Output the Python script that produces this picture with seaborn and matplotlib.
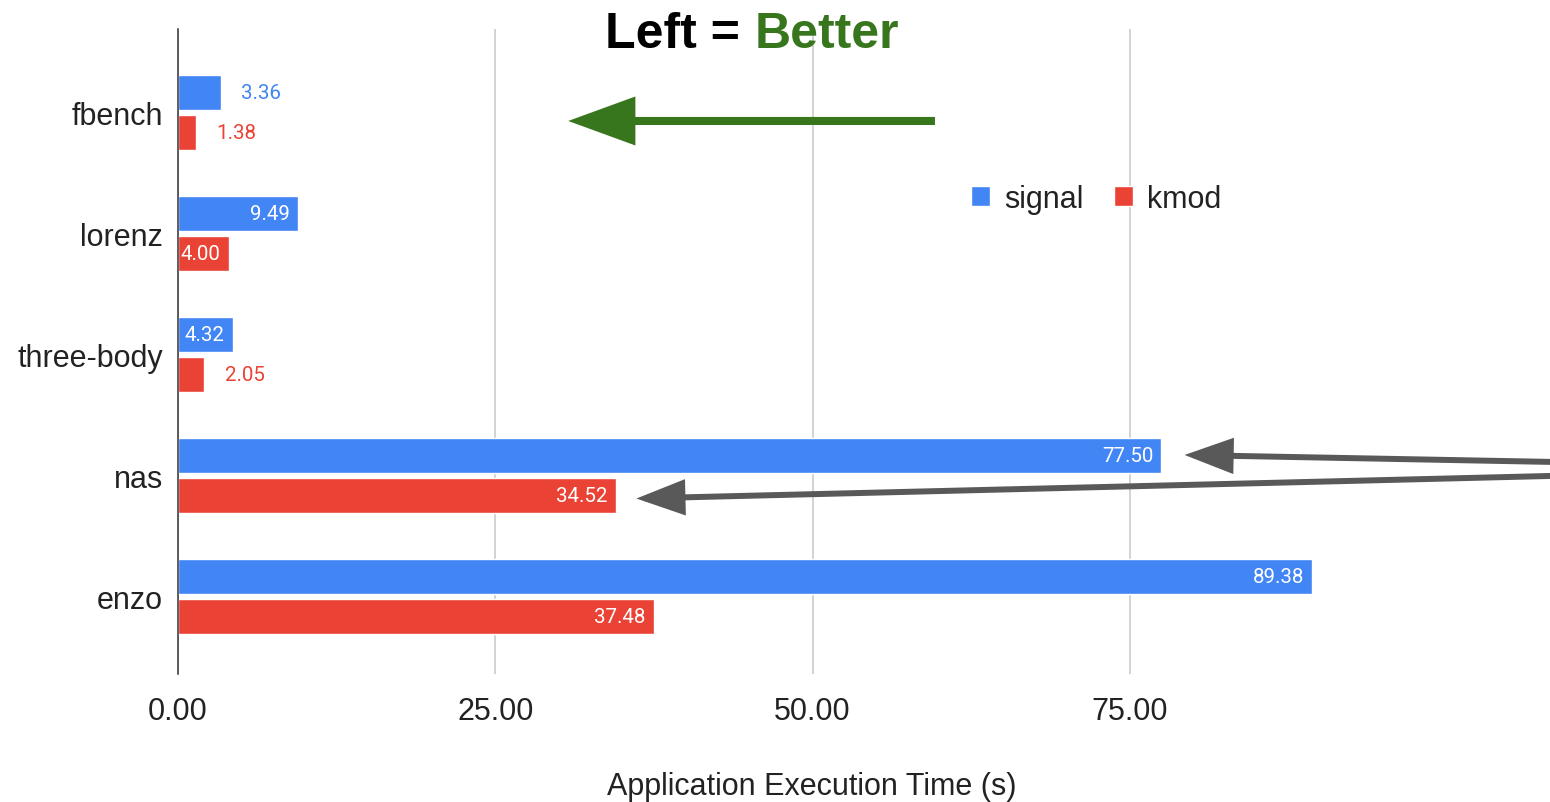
import pandas as pd
import seaborn as sns
import matplotlib.pyplot as plt

apps = ["fbench", "lorenz", "three-body", "nas", "enzo"]
signal = [3.36, 9.49, 4.32, 77.50, 89.38]
kmod = [1.38, 4.00, 2.05, 34.52, 37.48]
series = ["signal", "kmod"]
colors = ["#4285F4", "#EA4335"]
xticks = [0, 25, 50, 75]

df = pd.DataFrame({
    "app": apps * 2,
    "time": signal + kmod,
    "kind": ["signal"] * len(apps) + ["kmod"] * len(apps),
})

sns.set_style("white")
plt.rcParams["font.family"] = ["Liberation Sans", "DejaVu Sans"]

W, H = 1550, 803
fig = plt.figure(figsize=(W / 100, H / 100), dpi=100)
ax = fig.add_axes([178 / W, 1 - 675 / H, (W - 178) / W, (675 - 30) / H])

sns.barplot(data=df, x="time", y="app", hue="kind", orient="h", order=apps,
            hue_order=series, palette=colors, width=0.66, gap=0.12,
            saturation=1, ax=ax, zorder=3)

ax.set_xlim(0, (W - 178) / 12.69)
ax.set_ylim(4.64, -0.69)
ax.set_xticks(xticks)
ax.set_xticklabels([f"{t:.2f}" for t in xticks], fontsize=22, color="#222222")
ax.tick_params(axis="x", length=0, pad=16)
ax.tick_params(axis="y", length=0, pad=11, labelsize=22, labelcolor="#222222")
ax.set_ylabel("")
ax.set_xlabel("Application Execution Time (s)", fontsize=22, color="#222222",
              labelpad=32, x=(812 - 178) / (W - 178))
ax.grid(axis="x", color="#cccccc", lw=1.2, zorder=0)
for s in ["top", "right", "bottom"]:
    ax.spines[s].set_visible(False)
ax.spines["left"].set_color("#333333")
ax.spines["left"].set_linewidth(1.1)
ax.spines["left"].set_zorder(5)

# value labels: white inside if the bar is long enough, coloured outside otherwise
for cont, col in zip(ax.containers, colors):
    for bar, v in zip(cont, cont.datavalues):
        y = bar.get_y() + bar.get_height() / 2
        if v >= 3.9:
            ax.annotate(f"{v:.2f}", (v, y), xytext=(-6, 0), textcoords="offset points",
                        ha="right", va="center", color="white", fontsize=14.8,
                        family="Roboto", zorder=6)
        else:
            ax.annotate(f"{v:.2f}", (v, y), xytext=(15, 0), textcoords="offset points",
                        ha="left", va="center", color=col, fontsize=14.8,
                        family="Roboto", zorder=6)

handles, labels = ax.get_legend_handles_labels()
ax.legend(handles, labels, loc="center", bbox_to_anchor=(1096 / W, 1 - 200 / H),
          bbox_transform=fig.transFigure, ncol=2, frameon=False, fontsize=22,
          handlelength=0.62, handleheight=0.62, handletextpad=0.45,
          columnspacing=1.0, labelcolor="#222222")

# title
fig.text(740 / W, 1 - 48 / H, "Left =", ha="right", va="baseline",
         fontsize=36, fontweight="bold", color="black")
fig.text(755 / W, 1 - 48 / H, "Better", ha="left", va="baseline",
         fontsize=36, fontweight="bold", color="#38761D")

# arrows
ax.annotate("", xy=(30.75, 0.07), xytext=(59.65, 0.07),
            arrowprops=dict(arrowstyle="-|>,head_length=37,head_width=13.5",
                            mutation_scale=1, lw=5.8, color="#38761D",
                            shrinkA=0, shrinkB=0, capstyle="butt", joinstyle="miter"),
            annotation_clip=False, zorder=7)
grey = "#595959"
ax.annotate("", xy=(signal[3] + 1.82, 2.83), xytext=(109.5, 2.89),
            arrowprops=dict(arrowstyle="-|>,head_length=27,head_width=10",
                            mutation_scale=1, lw=4.3, color=grey,
                            shrinkA=0, shrinkB=0, capstyle="butt", joinstyle="miter"),
            annotation_clip=False, zorder=7)
ax.annotate("", xy=(kmod[3] + 1.6, 3.19), xytext=(109.5, 3.0),
            arrowprops=dict(arrowstyle="-|>,head_length=27,head_width=10",
                            mutation_scale=1, lw=4.3, color=grey,
                            shrinkA=0, shrinkB=0, capstyle="butt", joinstyle="miter"),
            annotation_clip=False, zorder=7)

fig.savefig("out.png", dpi=100)
